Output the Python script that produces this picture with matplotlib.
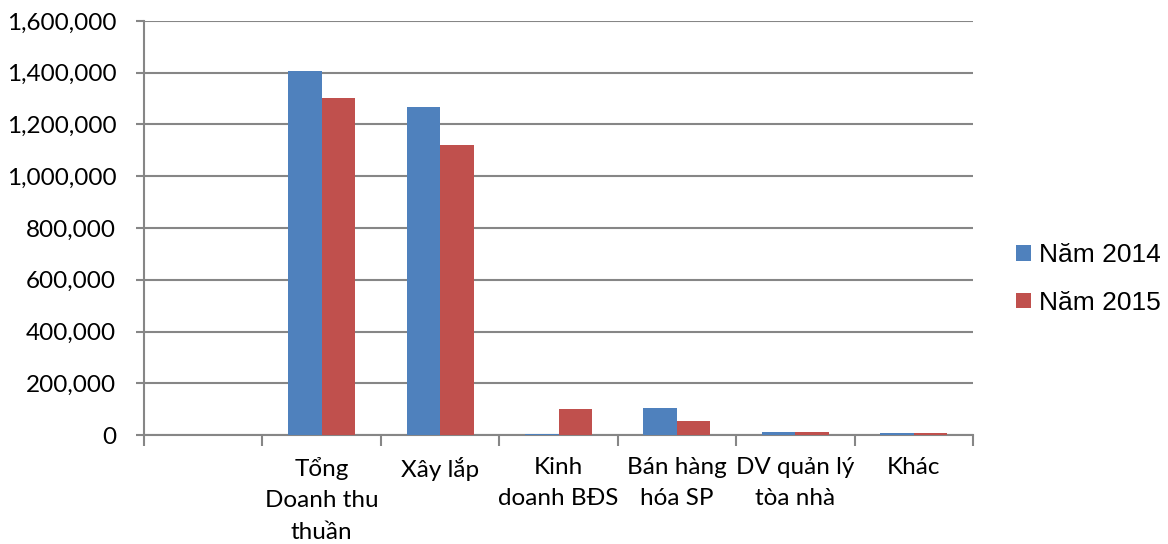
import matplotlib
matplotlib.use("Agg")
import matplotlib.pyplot as plt
from matplotlib.ticker import FuncFormatter, FixedLocator
from matplotlib.patches import Patch

categories = ["", "Tổng\nDoanh thu\nthuần", "Xây lắp", "Kinh\ndoanh BĐS",
              "Bán hàng\nhóa SP", "DV quản lý\ntòa nhà", "Khác"]
series_names = ["Năm 2014", "Năm 2015"]
values_2014 = [0, 1405000, 1267000, 4000, 106000, 12000, 6000]
values_2015 = [0, 1302000, 1120000, 99000, 55000, 12000, 6000]
colors = ["#4F81BD", "#C0504D"]
yticks = [0, 200000, 400000, 600000, 800000, 1000000, 1200000, 1400000, 1600000]

fig = plt.figure(figsize=(11.68, 5.44), dpi=100)
ax = fig.add_axes([144/1168, 1-435/544, (973-144)/1168, (435-21)/544])

x = list(range(len(categories)))
w = 0.283
ax.bar([i - w/2 for i in x], values_2014, width=w, color=colors[0], zorder=3)
ax.bar([i + w/2 for i in x], values_2015, width=w, color=colors[1], zorder=3)

gc = "#868686"
ax.set_xlim(-0.5, len(categories) - 0.5)
ax.set_ylim(0, 1600000)
ax.set_yticks(yticks)
ax.yaxis.set_major_formatter(FuncFormatter(lambda v, p: f"{int(v):,}"))
ax.grid(axis="y", color=gc, linewidth=1.5, zorder=0)
ax.set_axisbelow(True)

ax.set_xticks(x)
ax.set_xticklabels(categories, fontfamily="Lato", fontsize=17.5, linespacing=1.6, va="top")
ax.xaxis.set_minor_locator(FixedLocator([i - 0.5 for i in range(len(categories) + 1)]))
ax.tick_params(axis="x", which="major", length=0, pad=16)
ax.tick_params(axis="x", which="minor", length=8, width=1.5, color=gc, direction="out")
ax.tick_params(axis="y", length=6, width=1.5, color=gc, direction="out", pad=14,
               labelsize=17.5)
for lab in ax.get_yticklabels():
    lab.set_fontfamily("Lato")

for s in ["top", "right"]:
    ax.spines[s].set_visible(False)
for s in ["left", "bottom"]:
    ax.spines[s].set_color(gc)
    ax.spines[s].set_linewidth(1.5)

handles = [Patch(facecolor=c, edgecolor="none") for c in colors]
leg = fig.legend(handles, series_names, loc="center left",
                 bbox_to_anchor=(1011/1168, 1-279/544), frameon=False,
                 prop={"family": "Liberation Sans", "size": 19},
                 handlelength=0.55, handleheight=0.55, handletextpad=0.3,
                 labelspacing=0.9, borderpad=0.2, borderaxespad=0)

fig.savefig("out.png", dpi=100)
